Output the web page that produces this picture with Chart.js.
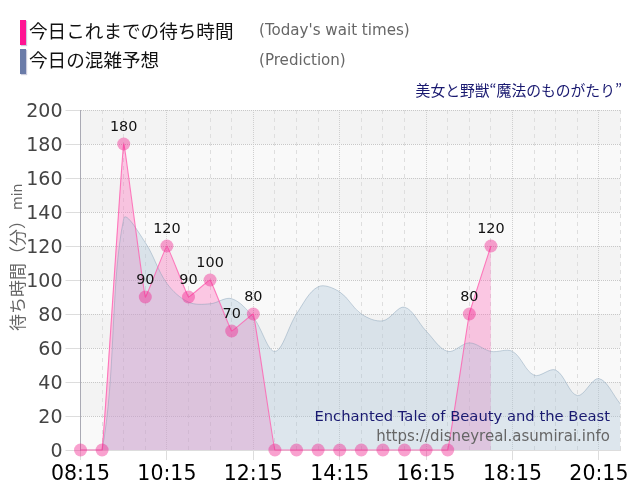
<!DOCTYPE html>
<html lang="ja"><head><meta charset="utf-8">
<script src="https://cdn.jsdelivr.net/npm/chart.js@4/dist/chart.umd.min.js"></script>
<style>
html,body{margin:0;padding:0;background:#fff;width:640px;height:500px;overflow:hidden}
#wrap{position:relative;width:640px;height:500px}
canvas{position:absolute;left:0;top:0}
.t{position:absolute;white-space:nowrap;line-height:1;z-index:2}
.jp{font-family:"Noto Sans CJK JP";font-weight:400}
.en{font-family:"DejaVu Sans"}
.sw{position:absolute;left:20px;width:6px;height:25px;box-shadow:1px 1px 1px #ccd;z-index:2}
</style></head><body><div id="wrap">
<canvas id="c" width="640" height="500"></canvas>
<div class="sw" style="top:20px;background:#ff1493"></div>
<div class="sw" style="top:49px;background:#6a7ba8"></div>
<div class="t jp" style="left:29px;top:21px;font-size:18.6px;color:#111">今日これまでの待ち時間</div>
<div class="t jp" style="left:29px;top:50px;font-size:18.6px;color:#111">今日の混雑予想</div>
<div class="t en" style="left:259px;top:23px;font-size:15.1px;color:#666">(Today's wait times)</div>
<div class="t en" style="left:259px;top:53px;font-size:15.1px;color:#666">(Prediction)</div>
<div class="t jp" style="right:18px;top:83px;font-size:14.8px;color:#191970">美女と野獣“魔法のものがたり”</div>
<div class="t en" style="right:30px;top:409px;font-size:14.75px;color:#191970">Enchanted Tale of Beauty and the Beast</div>
<div class="t en" style="right:30px;top:429px;font-size:15px;color:#666">https://disneyreal.asumirai.info</div>
</div>
<script>
const times=["08:15","08:45","09:15","09:45","10:15","10:45","11:15","11:45","12:15","12:45","13:15","13:45","14:15","14:45","15:15","15:45","16:15","16:45","17:15","17:45","18:15","18:45","19:15","19:45","20:15","20:45"];
const labeledTimes=["08:15","10:15","12:15","14:15","16:15","18:15","20:15"];
const waitTimes=[0,0,180,90,120,90,100,70,80,0,0,0,0,0,0,0,0,0,80,120];
const prediction=[0,0,136,122,98,87,86,89,78,58,80,96,93,80,76,84,70,58,63,58,58,44,47,32,42,27];
const yTicks=[0,20,40,60,80,100,120,140,160,180,200];
const yTitle="待ち時間（分）";
const yUnit="min";

const bands={id:'bands',beforeDraw(ch){
  const {ctx,chartArea:a,scales:{y}}=ch;ctx.save();
  for(let i=0;i<yTicks.length-1;i++){
    const top=y.getPixelForValue(yTicks[i+1]),bot=y.getPixelForValue(yTicks[i]);
    ctx.fillStyle=i%2?'#f3f3f3':'#f9f9f9';
    ctx.fillRect(a.left,top,a.right-a.left,bot-top);
  }
  ctx.restore();
}};
const labels={id:'labels',afterDatasetsDraw(ch){
  const {ctx}=ch,m=ch.getDatasetMeta(2);ctx.save();
  ctx.font='14.4px "DejaVu Sans"';ctx.fillStyle='#111';ctx.textAlign='center';ctx.textBaseline='middle';
  waitTimes.forEach((v,i)=>{if(v>0){const p=m.data[i];ctx.fillText(String(v),p.x,p.y-17);}});
  ctx.restore();
}};
const yLabel={id:'yLabel',afterDraw(ch){
  const {ctx}=ch;ctx.save();ctx.translate(18,331);ctx.rotate(-Math.PI/2);
  ctx.fillStyle='#666';ctx.textAlign='left';ctx.textBaseline='middle';
  ctx.font='400 17px "Noto Sans CJK JP"';ctx.fillText(yTitle,0,0);
  const w=ctx.measureText(yTitle).width;
  ctx.font='14px "DejaVu Sans"';ctx.fillText(yUnit,w+2,0);
  ctx.restore();
}};
new Chart(document.getElementById('c'),{
  type:'line',
  data:{labels:times,datasets:[
    {data:waitTimes,borderWidth:0,borderColor:'transparent',backgroundColor:'rgba(255,105,185,0.35)',fill:'origin',tension:0.06,pointRadius:0,order:3},
    {data:prediction,borderColor:'rgba(120,150,175,0.4)',borderWidth:1,backgroundColor:'rgba(168,196,216,0.35)',fill:'origin',tension:0.35,pointRadius:0,order:2},
    {data:waitTimes,borderColor:'rgba(255,95,175,0.8)',borderWidth:1.1,fill:false,tension:0.06,pointRadius:6.5,pointHoverRadius:6.5,pointBorderWidth:0,pointBackgroundColor:'rgba(240,30,140,0.42)',clip:false,order:1}
  ]},
  options:{
    responsive:false,animation:false,devicePixelRatio:1,
    layout:{padding:{left:0,right:19.5,top:110,bottom:0}},
    plugins:{legend:{display:false},title:{display:false},tooltip:{enabled:false}},
    scales:{
      x:{type:'category',offset:false,
        afterFit(s){s.height=50;},
        grid:{
          color:c=>labeledTimes.includes(times[c.index])?'#cfcfcf':'#dedede',
          tickColor:c=>labeledTimes.includes(times[c.index])?'#dddddd':'transparent',
          tickLength:10,lineWidth:1},
        border:{color:'#dddddd',dash:c=>labeledTimes.includes(times[c.index])?[1,1]:[4,4]},
        ticks:{autoSkip:false,maxRotation:0,minRotation:0,padding:2,color:'#000',font:{family:'DejaVu Sans',size:20.5},
          callback(v,i){const t=times[i];return labeledTimes.includes(t)?t:'';}}
      },
      y:{min:0,max:200,
        afterFit(s){s.width=80.5;},
        afterBuildTicks(s){s.ticks=yTicks.map(v=>({value:v}));},
        grid:{color:'#c8c8c8',tickColor:'#dddddd',tickLength:15,lineWidth:1},
        border:{color:'#aaaab4',dash:[1,1],width:1},
        ticks:{padding:3,color:'#444',font:{family:'DejaVu Sans',size:19,lineHeight:0.2},callback:v=>['',String(v)]}
      }
    }
  },
  plugins:[bands,labels,yLabel]
});
</script></body></html>
